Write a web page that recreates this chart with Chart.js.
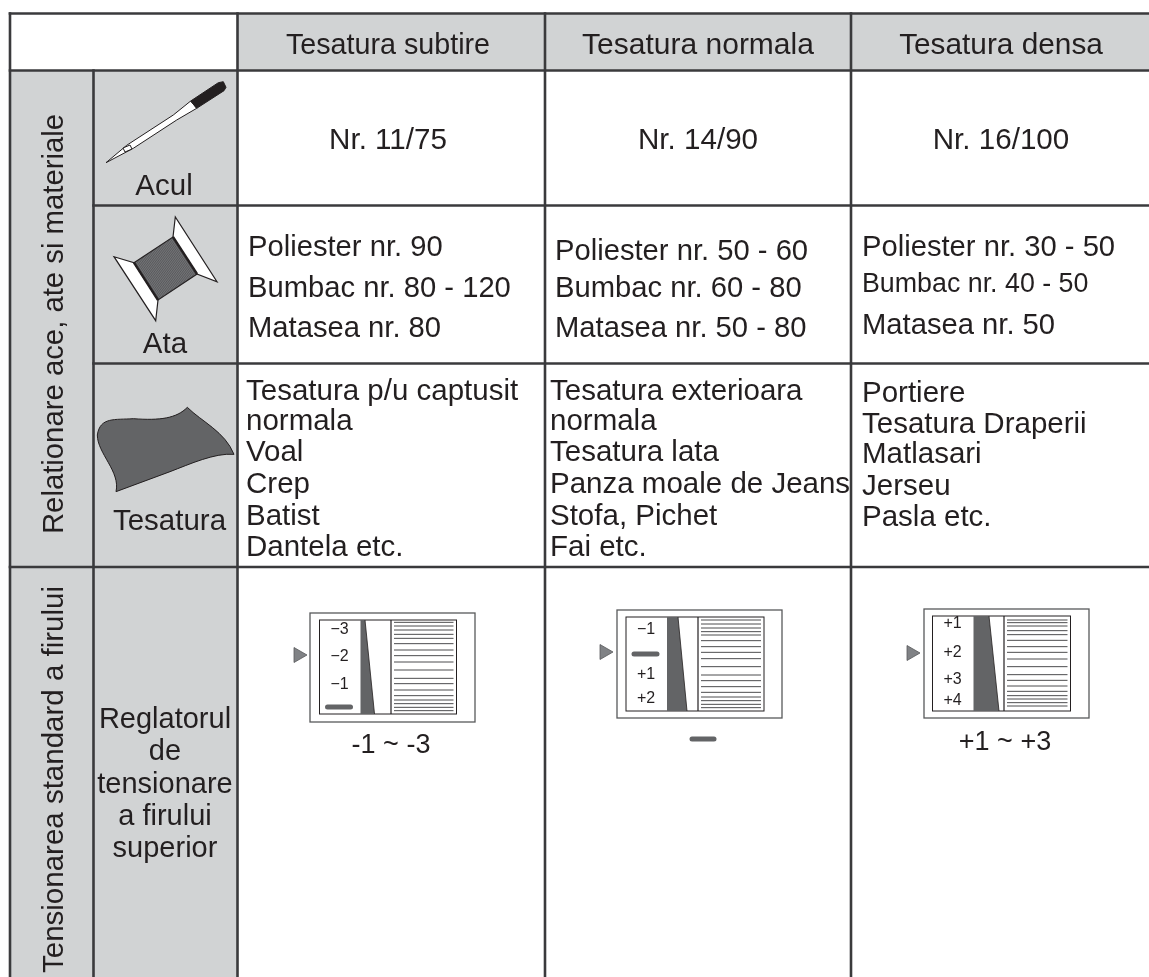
<!DOCTYPE html>
<html>
<head>
<meta charset="utf-8">
<title>Relationare ace, ate si materiale</title>
<script src="https://cdn.jsdelivr.net/npm/chart.js@4"></script>
<style>
  html, body { margin: 0; padding: 0; background: #fff; }
  #wrap { position: relative; width: 1149px; height: 977px; }
</style>
</head>
<body>
<div id="wrap"><canvas id="tableChart"></canvas></div>
<script>
// table content
const headers = ['Tesatura subtire', 'Tesatura normala', 'Tesatura densa'];
const needleSizes = ['Nr. 11/75', 'Nr. 14/90', 'Nr. 16/100'];
const threads = [
  ['Poliester nr. 90', 'Bumbac nr. 80 - 120', 'Matasea nr. 80'],
  ['Poliester nr. 50 - 60', 'Bumbac nr. 60 - 80', 'Matasea nr. 50 - 80'],
  ['Poliester nr. 30 - 50', 'Bumbac nr. 40 - 50', 'Matasea nr. 50']
];
const fabrics = [
  ['Tesatura p/u captusit', 'normala', 'Voal', 'Crep', 'Batist', 'Dantela etc.'],
  ['Tesatura exterioara', 'normala', 'Tesatura lata', 'Panza moale de Jeans', 'Stofa, Pichet', 'Fai etc.'],
  ['Portiere', 'Tesatura Draperii', 'Matlasari', 'Jerseu', 'Pasla etc.']
];
const rowLabels = ['Acul', 'Ata', 'Tesatura'];
const groupLabels = ['Relationare ace, ate si materiale', 'Tensionarea standard a firului'];
const regulatorLabel = ['Reglatorul', 'de', 'tensionare', 'a firului', 'superior'];
const dialLabels = [
  ['\u22123', '\u22122', '\u22121', null],
  ['\u22121', null, '+1', '+2'],
  ['+1', '+2', '+3', '+4']
];
const captions = ['-1 ~ -3', null, '+1 ~ +3'];

// the two axes run in page pixels, so the layout below reads straight off the picture
const colEdges = [10, 93.5, 237.5, 545, 851, 1149];
const rowEdges = [13.5, 70.5, 205.5, 363.5, 567, 977];

const INK = '#231f20';
const RULE = '#3a3a3c';
const CELL = '#d1d3d4';
const DARK = '#636466';
const FONT = '"Liberation Sans", Arial, sans-serif';

const dials = [
  { x: 310, y: 613, w: 165, h: 109, ix: 319.5, iy: 620, iw: 137, ih: 94, wedgeL: 360.5, wedgeTop: 365, wedgeBot: 374.5, split: 391, arrowY: 655, arrowX: 294,
    labelY: [630, 657, 685, 707], stripes: [67,78,90,103,115,131,150,167,186,210,235,251,270,287,300,311,322,332], zero: 600 },
  { x: 617, y: 610, w: 165, h: 108, ix: 626, iy: 617, iw: 138, ih: 94, wedgeL: 667, wedgeTop: 678, wedgeBot: 687, split: 698, arrowY: 652, arrowX: 600,
    labelY: [630, 654, 675, 699], stripes: [60,72,84,95,105,122,140,157,176,200,225,242,260,277,291,302,313,323], zero: 600 },
  { x: 924, y: 609, w: 165, h: 109, ix: 932.5, iy: 616, iw: 138, ih: 95, wedgeL: 973.5, wedgeTop: 989, wedgeBot: 999, split: 1004, arrowY: 653, arrowX: 907,
    labelY: [624, 653, 680, 701], stripes: [60,68,78,92,104,121,140,157,177,200,224,241,258,274,287,297,308,318], zero: 600 }
];

function rule(x0, y0, x1, y1) {
  return {
    type: 'line',
    data: [{ x: x0, y: y0 }, { x: x1, y: y1 }],
    borderColor: RULE,
    borderWidth: 2.6,
    pointRadius: 0,
    borderCapStyle: 'square',
    order: 1
  };
}

const [c0, c1, c2, c3, c4, c5] = colEdges;
const [r0, r1, r2, r3, r4, r5] = rowEdges;
const rules = [
  rule(c0, r0, c5, r0), rule(c0, r1, c5, r1), rule(c1, r2, c5, r2), rule(c1, r3, c5, r3), rule(c0, r4, c5, r4),
  rule(c0, r0, c0, r5), rule(c1, r1, c1, r5), rule(c2, r0, c2, r5), rule(c3, r0, c3, r5), rule(c4, r0, c4, r5)
];

// grey cells go under the rules
const cellShading = {
  id: 'cellShading',
  beforeDatasetsDraw(chart) {
    const { ctx, scales: { x, y } } = chart;
    const box = (a, b, c, d) => {
      ctx.fillRect(x.getPixelForValue(a), y.getPixelForValue(b), x.getPixelForValue(c) - x.getPixelForValue(a), y.getPixelForValue(d) - y.getPixelForValue(b));
    };
    ctx.save();
    ctx.fillStyle = CELL;
    box(c2, r0, c5, r1);
    box(c0, r1, c2, r5);
    ctx.restore();
  }
};

function poly(ctx, x, y, pts, fill, stroke, width) {
  ctx.beginPath();
  pts.forEach((p, i) => {
    const px = x.getPixelForValue(p[0]), py = y.getPixelForValue(p[1]);
    if (i === 0) ctx.moveTo(px, py); else ctx.lineTo(px, py);
  });
  ctx.closePath();
  if (fill) { ctx.fillStyle = fill; ctx.fill(); }
  if (stroke) { ctx.strokeStyle = stroke; ctx.lineWidth = width; ctx.stroke(); }
}

function seg(ctx, x, y, x0, y0, x1, y1, color, width, cap) {
  ctx.beginPath();
  ctx.moveTo(x.getPixelForValue(x0), y.getPixelForValue(y0));
  ctx.lineTo(x.getPixelForValue(x1), y.getPixelForValue(y1));
  ctx.strokeStyle = color;
  ctx.lineWidth = width;
  ctx.lineCap = cap || 'butt';
  ctx.stroke();
}

function drawNeedle(ctx, x, y) {
  poly(ctx, x, y, [[106, 162.7], [126.7, 145.3], [173.3, 115], [190.7, 101], [196.7, 108.3], [176.7, 120], [133.3, 148.3]], '#fff', '#231f20', 1);
  poly(ctx, x, y, [[190.7, 101], [218.3, 82.7], [223.3, 81.7], [226, 87.3], [224, 90.7], [196.7, 108.3]], '#231f20', '#231f20', 1);
  poly(ctx, x, y, [[123, 148], [130, 145], [132, 149], [125, 152]], '#fff', '#231f20', 1);
}

function drawSpool(ctx, x, y) {
  poly(ctx, x, y, [[114, 256.7], [134, 262.7], [158, 300], [155.7, 320.7]], '#fff', '#231f20', 1.2);
  poly(ctx, x, y, [[175.3, 217], [173, 237], [197, 274], [217, 281.7]], '#fff', '#231f20', 1.2);
  poly(ctx, x, y, [[134, 262.7], [173, 237], [197, 274], [158, 300]], '#77787b', '#231f20', 1.2);
  for (let i = 1; i < 30; i++) {
    const t = i / 30;
    seg(ctx, x, y, 134 + 39 * t, 262.7 - 25.7 * t, 158 + 39 * t, 300 - 26 * t, '#3a3a3c', 0.5);
  }
  seg(ctx, x, y, 134, 262.7, 158, 300, '#231f20', 2.4);
  seg(ctx, x, y, 173, 237, 197, 274, '#231f20', 2.4);
}

function drawFabric(ctx, x, y) {
  const p = (zx, zy) => [x.getPixelForValue(90 + zx / 3), y.getPixelForValue(360 + zy / 3)];
  ctx.beginPath();
  ctx.moveTo(...p(78, 395));
  ctx.bezierCurveTo(...p(92, 335), ...p(22, 280), ...p(22, 225));
  ctx.bezierCurveTo(...p(30, 170), ...p(75, 180), ...p(130, 176));
  ctx.bezierCurveTo(...p(210, 182), ...p(260, 175), ...p(292, 142));
  ctx.bezierCurveTo(...p(335, 185), ...p(405, 215), ...p(432, 283));
  ctx.bezierCurveTo(...p(375, 278), ...p(300, 312), ...p(240, 335));
  ctx.closePath();
  ctx.fillStyle = '#636466';
  ctx.fill();
  ctx.strokeStyle = '#231f20';
  ctx.lineWidth = 1;
  ctx.stroke();
}

function drawDial(ctx, x, y, d, i) {
  const strokeBox = (a, b, w, h, lw, color) => {
    ctx.strokeStyle = color;
    ctx.lineWidth = lw;
    ctx.strokeRect(x.getPixelForValue(a), y.getPixelForValue(b), w, h);
  };
  strokeBox(d.x, d.y, d.w, d.h, 1.3, '#58595b');
  strokeBox(d.ix, d.iy, d.iw, d.ih, 1, '#231f20');
  poly(ctx, x, y, [[d.wedgeL, d.iy], [d.wedgeTop, d.iy], [d.wedgeBot, d.iy + d.ih], [d.wedgeL, d.iy + d.ih]], DARK);
  seg(ctx, x, y, d.wedgeTop, d.iy, d.wedgeBot, d.iy + d.ih, '#231f20', 0.8);
  seg(ctx, x, y, d.split, d.iy, d.split, d.iy + d.ih, '#231f20', 1.2);
  d.stripes.forEach(s => {
    const yy = d.zero + s / 3;
    seg(ctx, x, y, d.split + 3, yy, d.ix + d.iw - 3, yy, '#4d4d4f', 1);
  });
  poly(ctx, x, y, [[d.arrowX, d.arrowY - 7.5], [d.arrowX + 13, d.arrowY], [d.arrowX, d.arrowY + 7.5]], '#808285', '#58595b', 0.8);
  ctx.font = '16px ' + FONT;
  ctx.textAlign = 'center';
  ctx.textBaseline = 'middle';
  dialLabels[i].forEach((t, k) => {
    const cy = d.labelY[k];
    if (t === null) {
      seg(ctx, x, y, d.ix + 8, cy, d.ix + 31, cy, DARK, 5, 'round');
    } else {
      ctx.fillStyle = INK;
      ctx.fillText(t, x.getPixelForValue(d.ix + 20), y.getPixelForValue(cy));
    }
  });
}

// needle, spool, fabric swatch and all the writing
const tableText = {
  id: 'tableText',
  afterDatasetsDraw(chart) {
    const { ctx, scales: { x, y } } = chart;
    const put = (t, px, py, size, align) => {
      ctx.font = size + 'px ' + FONT;
      ctx.textAlign = align;
      ctx.textBaseline = 'alphabetic';
      ctx.fillStyle = INK;
      ctx.fillText(t, x.getPixelForValue(px), y.getPixelForValue(py));
    };
    ctx.save();

    const headerX = [388, 698, 1001];
    const headerSize = [28.7, 30, 29.8];
    headers.forEach((t, i) => put(t, headerX[i], 54, headerSize[i], 'center'));
    needleSizes.forEach((t, i) => put(t, headerX[i], 149, 29.6, 'center'));

    const threadX = [248, 555, 862];
    const threadY = [[256, 297, 337], [260, 297, 337], [256, 292, 334]];
    threads.forEach((col, i) => col.forEach((t, k) => {
      put(t, threadX[i], threadY[i][k], (i === 2 && k === 1) ? 26.8 : 29.2, 'left');
    }));

    const fabricX = [246, 550, 862];
    const fabricY = [[400, 430, 461, 493, 525, 556], [400, 430, 461, 493, 525, 556], [402, 433, 463, 495, 526]];
    fabrics.forEach((col, i) => col.forEach((t, k) => put(t, fabricX[i], fabricY[i][k], 29.5, 'left')));

    put(rowLabels[0], 164, 195, 29.5, 'center');
    put(rowLabels[1], 165, 353, 29.5, 'center');
    put(rowLabels[2], 169.5, 530, 29.5, 'center');

    const regulatorY = [728, 760, 793, 825, 857];
    regulatorLabel.forEach((t, i) => put(t, 165, regulatorY[i], 29, 'center'));

    const vertical = (t, cy, size) => {
      ctx.save();
      ctx.translate(x.getPixelForValue(63), y.getPixelForValue(cy));
      ctx.rotate(-Math.PI / 2);
      ctx.font = size + 'px ' + FONT;
      ctx.textAlign = 'center';
      ctx.textBaseline = 'alphabetic';
      ctx.fillStyle = INK;
      ctx.fillText(t, 0, 0);
      ctx.restore();
    };
    vertical(groupLabels[0], 324, 29.3);
    vertical(groupLabels[1], 779.5, 29.5);

    drawNeedle(ctx, x, y);
    drawSpool(ctx, x, y);
    drawFabric(ctx, x, y);

    dials.forEach((d, i) => drawDial(ctx, x, y, d, i));
    put(captions[0], 391, 753, 27, 'center');
    put(captions[2], 1005, 750, 27, 'center');
    seg(ctx, x, y, 692, 739, 714, 739, DARK, 5, 'round');
    ctx.restore();
  }
};

new Chart(document.getElementById('tableChart'), {
  type: 'scatter',
  data: { datasets: rules },
  options: {
    responsive: true,
    maintainAspectRatio: false,
    animation: false,
    layout: { padding: 0 },
    plugins: { legend: { display: false }, tooltip: { enabled: false } },
    scales: {
      x: { type: 'linear', display: false, min: 0, max: 1149 },
      y: { type: 'linear', display: false, min: 0, max: 977, reverse: true }
    },
    elements: { line: { tension: 0 } }
  },
  plugins: [cellShading, tableText]
});
</script>
</body>
</html>
